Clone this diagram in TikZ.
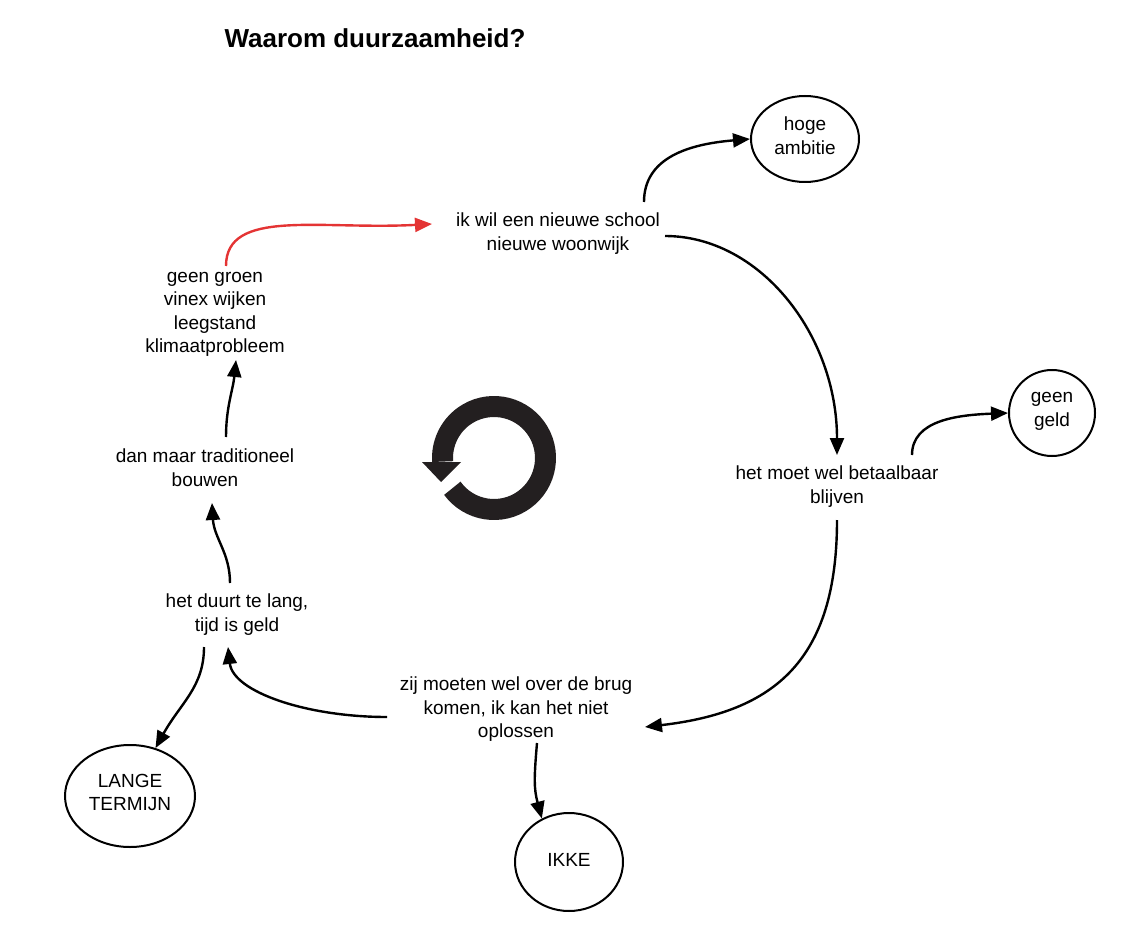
\documentclass[tikz,border=0pt]{standalone}
\usepackage{fontspec}
\setmainfont{Liberation Sans}
\usetikzlibrary{arrows.meta,shapes.geometric}
\definecolor{redline}{RGB}{228,52,52}
\definecolor{icon}{RGB}{35,31,32}

\begin{document}
\begin{tikzpicture}[x=1pt, y=-1pt,
  txt/.style={font=\fontsize{19}{23.5}\selectfont, align=center, inner sep=0pt,
    execute at begin node=\strut, execute at end node=\strut},
  bubble/.style={txt, ellipse, draw, line width=2pt},
  arr/.style={-{Triangle[length=17pt,width=14pt]}, line width=2.4pt}]
\useasboundingbox (0,0) rectangle (1124,925);

\node[font=\fontsize{26}{30}\selectfont\bfseries, anchor=base] (title) at (375,48) {Waarom duurzaamheid?};

% the loop
\node[txt] (ikwil) at (558,235) {ik wil een nieuwe school\\nieuwe woonwijk};
\node[txt] (betaal) at (837,488) {het moet wel betaalbaar\\blijven};
\node[txt] (brug) at (516,711) {zij moeten wel over de brug\\komen, ik kan het niet\\oplossen};
\node[txt] (duurt) at (237,616) {het duurt te lang,\\tijd is geld};
\node[txt] (trad) at (205,471) {dan maar traditioneel\\bouwen};
\node[txt] (groen) at (215,316) {geen groen\\vinex wijken\\leegstand\\klimaatprobleem};

% side effects
\node[bubble, minimum width=108, minimum height=86] (ambitie) at (805,139) {hoge\\ambitie};
\node[bubble, minimum width=86, minimum height=86] (geld) at (1052,413) {geen\\geld};
\node[bubble, minimum width=108, minimum height=98] (ikke) at (569,862) {IKKE};
\node[bubble, minimum width=130, minimum height=102] (lange) at (130,796) {LANGE\\TERMIJN};

\draw[arr, redline] ([shift={(11,-50)}]groen.center) .. controls +(0,-58) and +(-112,6) .. ([shift={(-126,-11)}]ikwil.center);
\draw[arr] ([shift={(86,-33)}]ikwil.center) .. controls +(0,-45) and +(-60,5) .. (ambitie.west);
\draw[arr] ([shift={(107,1)}]ikwil.center) .. controls +(95,0) and +(0,-120) .. ([shift={(0,-33)}]betaal.center);
\draw[arr] ([shift={(75,-33)}]betaal.center) .. controls +(0,-35) and +(-50,2) .. (geld.west);
\draw[arr] ([shift={(0,32)}]betaal.center) .. controls +(0,140) and +(130,-15) .. ([shift={(129,16)}]brug.center);
\draw[arr] ([shift={(-129,6)}]brug.center) .. controls +(-80,0) and +(5,45) .. ([shift={(-9,31)}]duurt.center);
\draw[arr] ([shift={(-33,31)}]duurt.center) .. controls +(0,40) and +(25,-45) .. (lange.62);
\draw[arr] ([shift={(21,32)}]brug.center) .. controls +(-3,35) and +(-8,-30) .. (ikke.122);
\draw[arr] ([shift={(-7,-33)}]duurt.center) .. controls +(0,-30) and +(2,35) .. ([shift={(7,32)}]trad.center);
\draw[arr] ([shift={(21,-34)}]trad.center) .. controls +(0,-30) and +(-3,30) .. ([shift={(21,44)}]groen.center);

% cycle icon
\coordinate (cyc) at (494,458);
\draw[icon, line width=21pt] ([shift={(216:51.5pt)}]cyc) arc[start angle=216, end angle=544, radius=51.5pt];
\fill[icon] (422,462) -- (461,462) -- (441,482) -- cycle;
\end{tikzpicture}
\end{document}
